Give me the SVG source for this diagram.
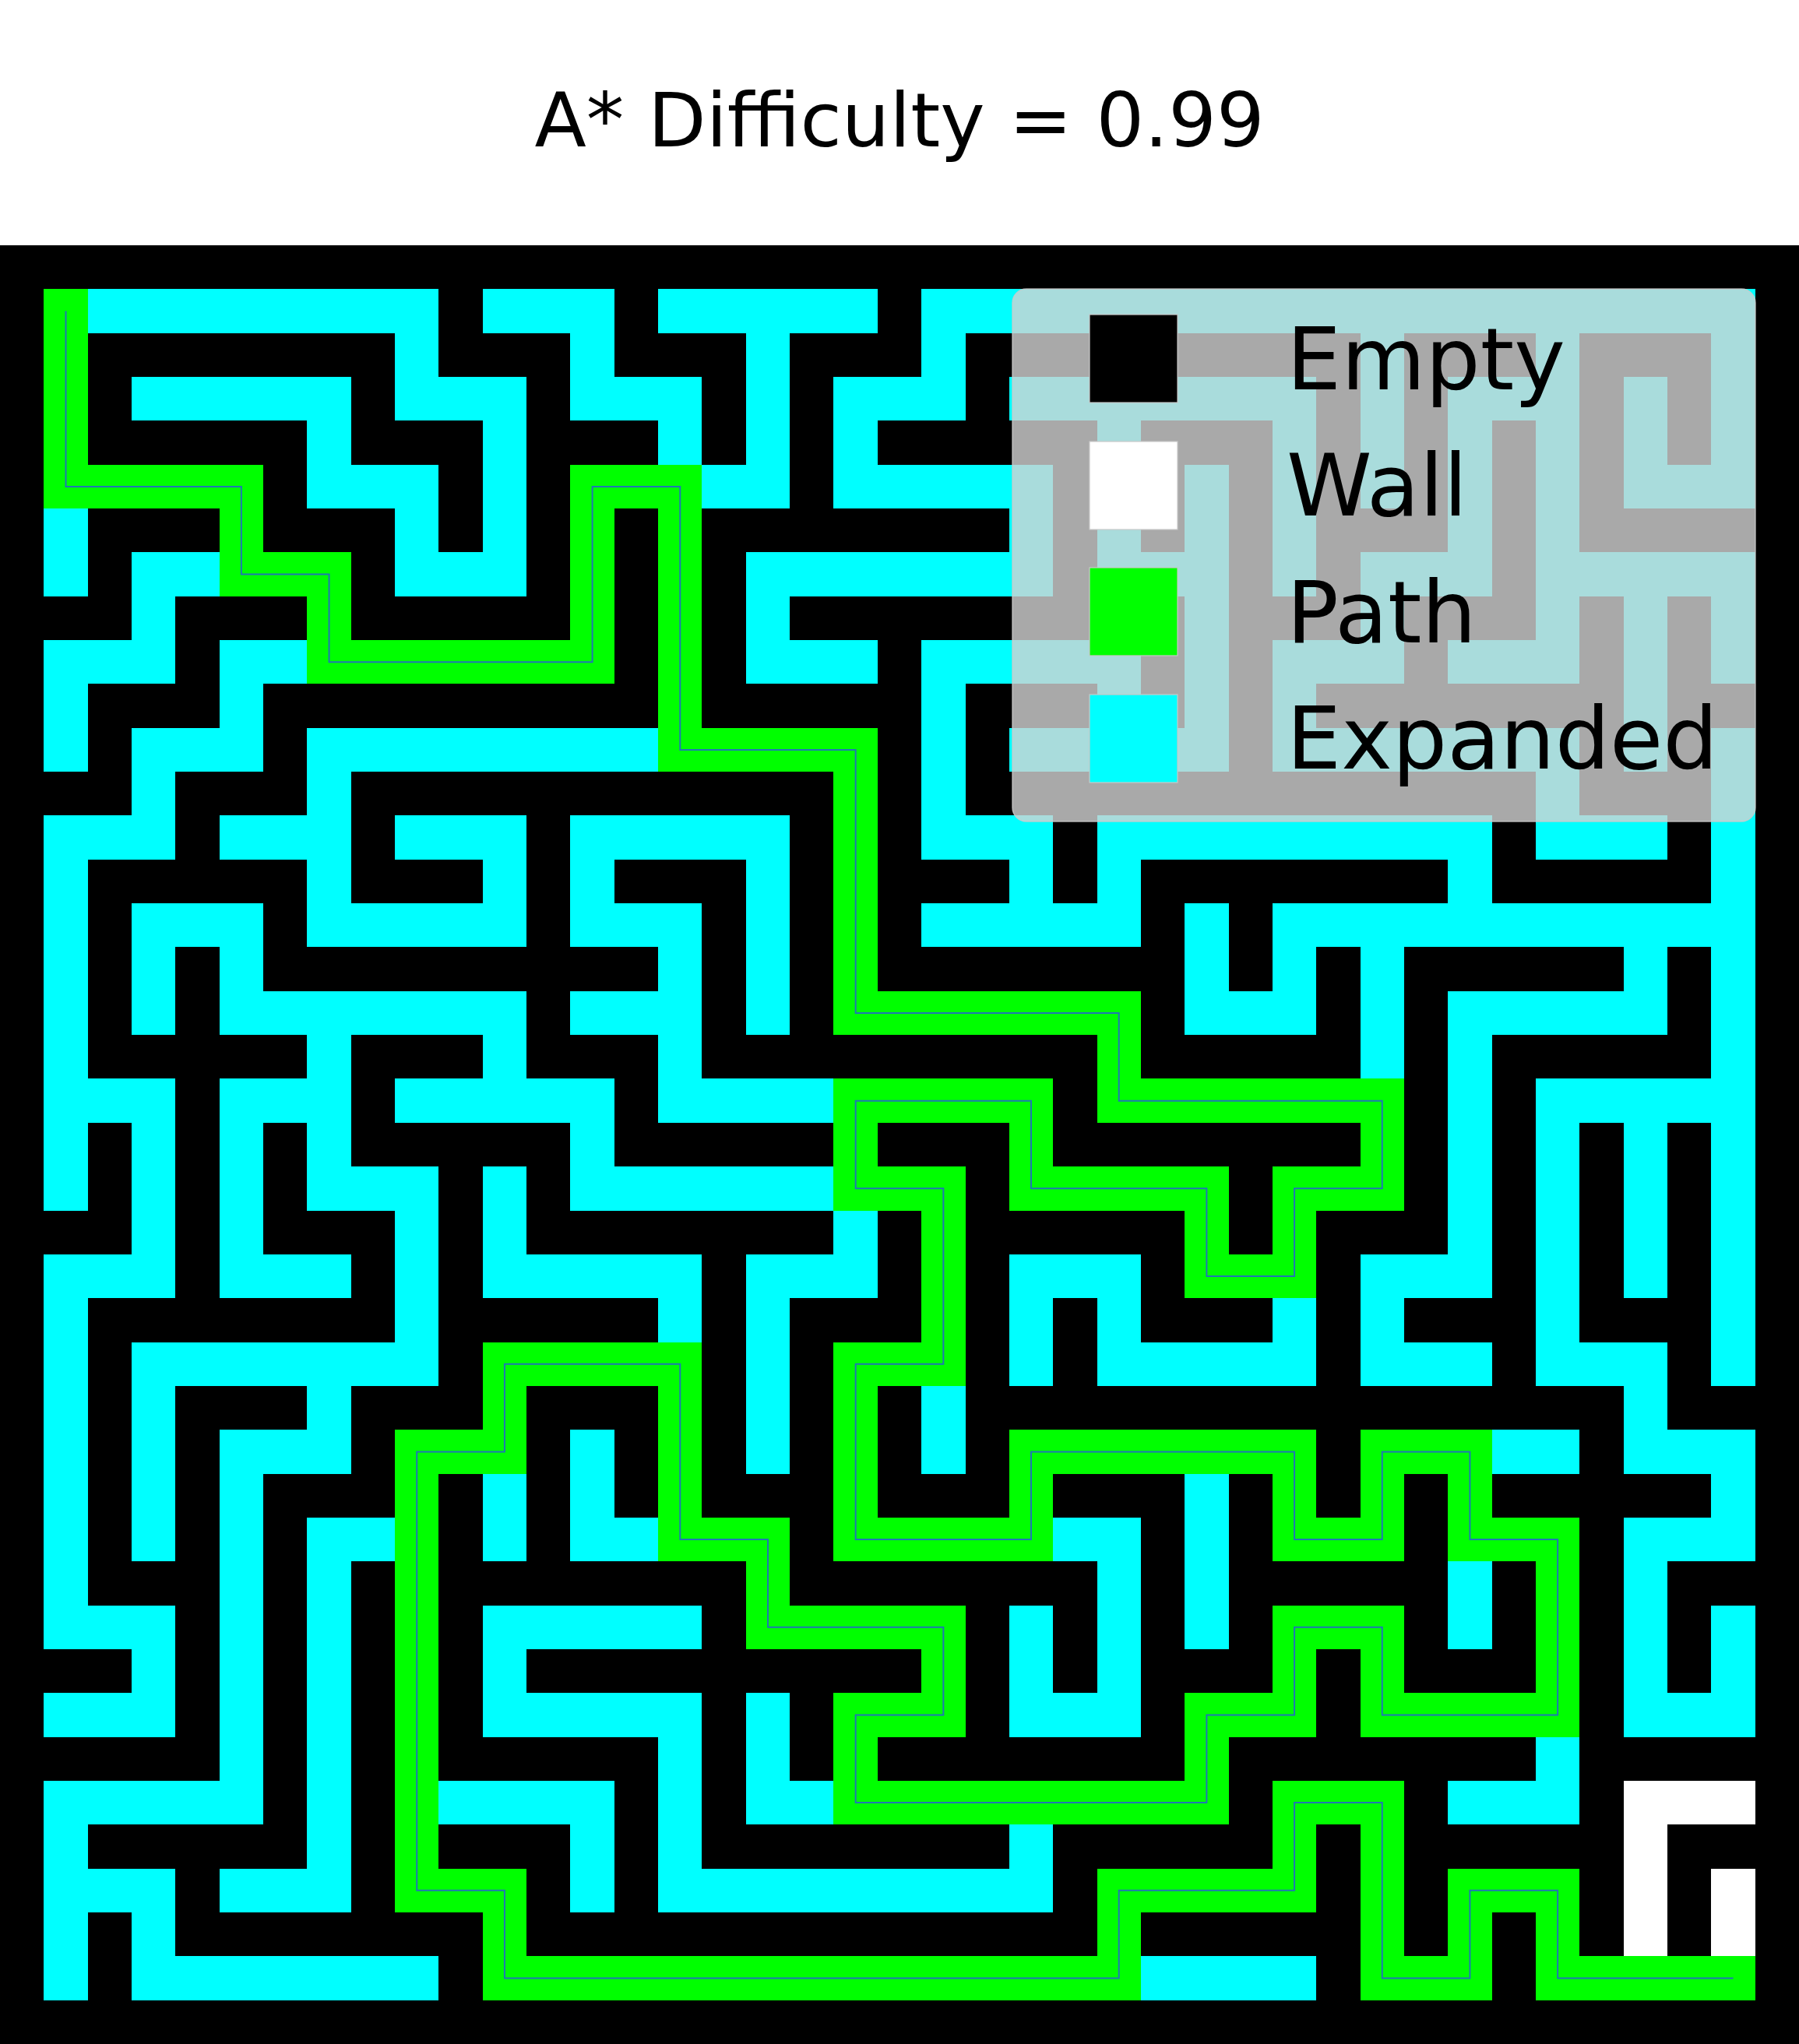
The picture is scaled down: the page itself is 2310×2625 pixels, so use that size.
<svg xmlns="http://www.w3.org/2000/svg" width="2310" height="2625" viewBox="0 0 2310 2625">
<style>
.c{fill:#00ffff}.g{fill:#00ff00}.w{fill:#ffffff}
.t{font-family:"DejaVu Sans","Liberation Sans",sans-serif;fill:#000}
.mk{stroke:#c8c8c8;stroke-width:1.2}
</style>
<rect x="0" y="0" width="2310" height="2625" fill="#ffffff"/>
<g id="title"><text class="t" x="1155" y="188" font-size="97" text-anchor="middle">A* Difficulty = 0.99</text></g>
<g id="maze">
<rect x="0" y="315" width="2310" height="2310" fill="#000000"/>
<g transform="translate(0 315) scale(56.3414634)" shape-rendering="crispEdges">
<g class="c">
<rect x="2" y="1" width="8" height="1"/><rect x="11" y="1" width="3" height="1"/><rect x="15" y="1" width="5" height="1"/><rect x="21" y="1" width="19" height="1"/>
<rect x="9" y="2" width="1" height="1"/><rect x="13" y="2" width="1" height="1"/><rect x="17" y="2" width="1" height="1"/><rect x="21" y="2" width="1" height="1"/><rect x="31" y="2" width="1" height="1"/><rect x="35" y="2" width="1" height="1"/><rect x="39" y="2" width="1" height="1"/>
<rect x="3" y="3" width="5" height="1"/><rect x="9" y="3" width="3" height="1"/><rect x="13" y="3" width="3" height="1"/><rect x="17" y="3" width="1" height="1"/><rect x="19" y="3" width="3" height="1"/><rect x="23" y="3" width="7" height="1"/><rect x="31" y="3" width="1" height="1"/><rect x="33" y="3" width="3" height="1"/><rect x="37" y="3" width="1" height="1"/><rect x="39" y="3" width="1" height="1"/>
<rect x="7" y="4" width="1" height="1"/><rect x="11" y="4" width="1" height="1"/><rect x="15" y="4" width="1" height="1"/><rect x="17" y="4" width="1" height="1"/><rect x="19" y="4" width="1" height="1"/><rect x="25" y="4" width="1" height="1"/><rect x="29" y="4" width="1" height="1"/><rect x="31" y="4" width="1" height="1"/><rect x="33" y="4" width="1" height="1"/><rect x="35" y="4" width="1" height="1"/><rect x="37" y="4" width="1" height="1"/><rect x="39" y="4" width="1" height="1"/>
<rect x="7" y="5" width="3" height="1"/><rect x="11" y="5" width="1" height="1"/><rect x="16" y="5" width="2" height="1"/><rect x="19" y="5" width="5" height="1"/><rect x="25" y="5" width="1" height="1"/><rect x="27" y="5" width="1" height="1"/><rect x="29" y="5" width="1" height="1"/><rect x="31" y="5" width="1" height="1"/><rect x="33" y="5" width="1" height="1"/><rect x="35" y="5" width="1" height="1"/><rect x="37" y="5" width="3" height="1"/>
<rect x="1" y="6" width="1" height="1"/><rect x="9" y="6" width="1" height="1"/><rect x="11" y="6" width="1" height="1"/><rect x="23" y="6" width="1" height="1"/><rect x="25" y="6" width="1" height="1"/><rect x="27" y="6" width="1" height="1"/><rect x="29" y="6" width="1" height="1"/><rect x="33" y="6" width="1" height="1"/><rect x="35" y="6" width="1" height="1"/>
<rect x="1" y="7" width="1" height="1"/><rect x="3" y="7" width="2" height="1"/><rect x="9" y="7" width="3" height="1"/><rect x="17" y="7" width="7" height="1"/><rect x="25" y="7" width="3" height="1"/><rect x="29" y="7" width="1" height="1"/><rect x="31" y="7" width="3" height="1"/><rect x="35" y="7" width="5" height="1"/>
<rect x="3" y="8" width="1" height="1"/><rect x="17" y="8" width="1" height="1"/><rect x="27" y="8" width="1" height="1"/><rect x="31" y="8" width="1" height="1"/><rect x="35" y="8" width="1" height="1"/><rect x="37" y="8" width="1" height="1"/><rect x="39" y="8" width="1" height="1"/>
<rect x="1" y="9" width="3" height="1"/><rect x="5" y="9" width="2" height="1"/><rect x="17" y="9" width="3" height="1"/><rect x="21" y="9" width="5" height="1"/><rect x="27" y="9" width="1" height="1"/><rect x="29" y="9" width="3" height="1"/><rect x="33" y="9" width="3" height="1"/><rect x="37" y="9" width="1" height="1"/><rect x="39" y="9" width="1" height="1"/>
<rect x="1" y="10" width="1" height="1"/><rect x="5" y="10" width="1" height="1"/><rect x="21" y="10" width="1" height="1"/><rect x="25" y="10" width="1" height="1"/><rect x="27" y="10" width="1" height="1"/><rect x="29" y="10" width="1" height="1"/><rect x="37" y="10" width="1" height="1"/>
<rect x="1" y="11" width="1" height="1"/><rect x="3" y="11" width="3" height="1"/><rect x="7" y="11" width="8" height="1"/><rect x="21" y="11" width="1" height="1"/><rect x="23" y="11" width="5" height="1"/><rect x="29" y="11" width="7" height="1"/><rect x="37" y="11" width="1" height="1"/><rect x="39" y="11" width="1" height="1"/>
<rect x="3" y="12" width="1" height="1"/><rect x="7" y="12" width="1" height="1"/><rect x="21" y="12" width="1" height="1"/><rect x="35" y="12" width="1" height="1"/><rect x="39" y="12" width="1" height="1"/>
<rect x="1" y="13" width="3" height="1"/><rect x="5" y="13" width="3" height="1"/><rect x="9" y="13" width="3" height="1"/><rect x="13" y="13" width="5" height="1"/><rect x="21" y="13" width="3" height="1"/><rect x="25" y="13" width="9" height="1"/><rect x="35" y="13" width="3" height="1"/><rect x="39" y="13" width="1" height="1"/>
<rect x="1" y="14" width="1" height="1"/><rect x="7" y="14" width="1" height="1"/><rect x="11" y="14" width="1" height="1"/><rect x="13" y="14" width="1" height="1"/><rect x="17" y="14" width="1" height="1"/><rect x="23" y="14" width="1" height="1"/><rect x="25" y="14" width="1" height="1"/><rect x="33" y="14" width="1" height="1"/><rect x="39" y="14" width="1" height="1"/>
<rect x="1" y="15" width="1" height="1"/><rect x="3" y="15" width="3" height="1"/><rect x="7" y="15" width="5" height="1"/><rect x="13" y="15" width="3" height="1"/><rect x="17" y="15" width="1" height="1"/><rect x="21" y="15" width="5" height="1"/><rect x="27" y="15" width="1" height="1"/><rect x="29" y="15" width="11" height="1"/>
<rect x="1" y="16" width="1" height="1"/><rect x="3" y="16" width="1" height="1"/><rect x="5" y="16" width="1" height="1"/><rect x="15" y="16" width="1" height="1"/><rect x="17" y="16" width="1" height="1"/><rect x="27" y="16" width="1" height="1"/><rect x="29" y="16" width="1" height="1"/><rect x="31" y="16" width="1" height="1"/><rect x="37" y="16" width="1" height="1"/><rect x="39" y="16" width="1" height="1"/>
<rect x="1" y="17" width="1" height="1"/><rect x="3" y="17" width="1" height="1"/><rect x="5" y="17" width="7" height="1"/><rect x="13" y="17" width="3" height="1"/><rect x="17" y="17" width="1" height="1"/><rect x="27" y="17" width="3" height="1"/><rect x="31" y="17" width="1" height="1"/><rect x="33" y="17" width="5" height="1"/><rect x="39" y="17" width="1" height="1"/>
<rect x="1" y="18" width="1" height="1"/><rect x="7" y="18" width="1" height="1"/><rect x="11" y="18" width="1" height="1"/><rect x="15" y="18" width="1" height="1"/><rect x="31" y="18" width="1" height="1"/><rect x="33" y="18" width="1" height="1"/><rect x="39" y="18" width="1" height="1"/>
<rect x="1" y="19" width="3" height="1"/><rect x="5" y="19" width="3" height="1"/><rect x="9" y="19" width="5" height="1"/><rect x="15" y="19" width="4" height="1"/><rect x="33" y="19" width="1" height="1"/><rect x="35" y="19" width="5" height="1"/>
<rect x="1" y="20" width="1" height="1"/><rect x="3" y="20" width="1" height="1"/><rect x="5" y="20" width="1" height="1"/><rect x="7" y="20" width="1" height="1"/><rect x="13" y="20" width="1" height="1"/><rect x="33" y="20" width="1" height="1"/><rect x="35" y="20" width="1" height="1"/><rect x="37" y="20" width="1" height="1"/><rect x="39" y="20" width="1" height="1"/>
<rect x="1" y="21" width="1" height="1"/><rect x="3" y="21" width="1" height="1"/><rect x="5" y="21" width="1" height="1"/><rect x="7" y="21" width="3" height="1"/><rect x="11" y="21" width="1" height="1"/><rect x="13" y="21" width="6" height="1"/><rect x="33" y="21" width="1" height="1"/><rect x="35" y="21" width="1" height="1"/><rect x="37" y="21" width="1" height="1"/><rect x="39" y="21" width="1" height="1"/>
<rect x="3" y="22" width="1" height="1"/><rect x="5" y="22" width="1" height="1"/><rect x="9" y="22" width="1" height="1"/><rect x="11" y="22" width="1" height="1"/><rect x="19" y="22" width="1" height="1"/><rect x="33" y="22" width="1" height="1"/><rect x="35" y="22" width="1" height="1"/><rect x="37" y="22" width="1" height="1"/><rect x="39" y="22" width="1" height="1"/>
<rect x="1" y="23" width="3" height="1"/><rect x="5" y="23" width="3" height="1"/><rect x="9" y="23" width="1" height="1"/><rect x="11" y="23" width="5" height="1"/><rect x="17" y="23" width="3" height="1"/><rect x="23" y="23" width="3" height="1"/><rect x="31" y="23" width="3" height="1"/><rect x="35" y="23" width="1" height="1"/><rect x="37" y="23" width="1" height="1"/><rect x="39" y="23" width="1" height="1"/>
<rect x="1" y="24" width="1" height="1"/><rect x="9" y="24" width="1" height="1"/><rect x="15" y="24" width="1" height="1"/><rect x="17" y="24" width="1" height="1"/><rect x="23" y="24" width="1" height="1"/><rect x="25" y="24" width="1" height="1"/><rect x="29" y="24" width="1" height="1"/><rect x="31" y="24" width="1" height="1"/><rect x="35" y="24" width="1" height="1"/><rect x="39" y="24" width="1" height="1"/>
<rect x="1" y="25" width="1" height="1"/><rect x="3" y="25" width="7" height="1"/><rect x="17" y="25" width="1" height="1"/><rect x="23" y="25" width="1" height="1"/><rect x="25" y="25" width="5" height="1"/><rect x="31" y="25" width="3" height="1"/><rect x="35" y="25" width="3" height="1"/><rect x="39" y="25" width="1" height="1"/>
<rect x="1" y="26" width="1" height="1"/><rect x="3" y="26" width="1" height="1"/><rect x="7" y="26" width="1" height="1"/><rect x="17" y="26" width="1" height="1"/><rect x="21" y="26" width="1" height="1"/><rect x="37" y="26" width="1" height="1"/>
<rect x="1" y="27" width="1" height="1"/><rect x="3" y="27" width="1" height="1"/><rect x="5" y="27" width="3" height="1"/><rect x="13" y="27" width="1" height="1"/><rect x="17" y="27" width="1" height="1"/><rect x="21" y="27" width="1" height="1"/><rect x="34" y="27" width="2" height="1"/><rect x="37" y="27" width="3" height="1"/>
<rect x="1" y="28" width="1" height="1"/><rect x="3" y="28" width="1" height="1"/><rect x="5" y="28" width="1" height="1"/><rect x="11" y="28" width="1" height="1"/><rect x="13" y="28" width="1" height="1"/><rect x="27" y="28" width="1" height="1"/><rect x="39" y="28" width="1" height="1"/>
<rect x="1" y="29" width="1" height="1"/><rect x="3" y="29" width="1" height="1"/><rect x="5" y="29" width="1" height="1"/><rect x="7" y="29" width="2" height="1"/><rect x="11" y="29" width="1" height="1"/><rect x="13" y="29" width="2" height="1"/><rect x="24" y="29" width="2" height="1"/><rect x="27" y="29" width="1" height="1"/><rect x="37" y="29" width="3" height="1"/>
<rect x="1" y="30" width="1" height="1"/><rect x="5" y="30" width="1" height="1"/><rect x="7" y="30" width="1" height="1"/><rect x="25" y="30" width="1" height="1"/><rect x="27" y="30" width="1" height="1"/><rect x="33" y="30" width="1" height="1"/><rect x="37" y="30" width="1" height="1"/>
<rect x="1" y="31" width="3" height="1"/><rect x="5" y="31" width="1" height="1"/><rect x="7" y="31" width="1" height="1"/><rect x="11" y="31" width="5" height="1"/><rect x="23" y="31" width="1" height="1"/><rect x="25" y="31" width="1" height="1"/><rect x="27" y="31" width="1" height="1"/><rect x="33" y="31" width="1" height="1"/><rect x="37" y="31" width="1" height="1"/><rect x="39" y="31" width="1" height="1"/>
<rect x="3" y="32" width="1" height="1"/><rect x="5" y="32" width="1" height="1"/><rect x="7" y="32" width="1" height="1"/><rect x="11" y="32" width="1" height="1"/><rect x="23" y="32" width="1" height="1"/><rect x="25" y="32" width="1" height="1"/><rect x="37" y="32" width="1" height="1"/><rect x="39" y="32" width="1" height="1"/>
<rect x="1" y="33" width="3" height="1"/><rect x="5" y="33" width="1" height="1"/><rect x="7" y="33" width="1" height="1"/><rect x="11" y="33" width="5" height="1"/><rect x="17" y="33" width="1" height="1"/><rect x="23" y="33" width="3" height="1"/><rect x="37" y="33" width="3" height="1"/>
<rect x="5" y="34" width="1" height="1"/><rect x="7" y="34" width="1" height="1"/><rect x="15" y="34" width="1" height="1"/><rect x="17" y="34" width="1" height="1"/><rect x="35" y="34" width="1" height="1"/>
<rect x="1" y="35" width="5" height="1"/><rect x="7" y="35" width="1" height="1"/><rect x="10" y="35" width="4" height="1"/><rect x="15" y="35" width="1" height="1"/><rect x="17" y="35" width="2" height="1"/><rect x="33" y="35" width="3" height="1"/>
<rect x="1" y="36" width="1" height="1"/><rect x="7" y="36" width="1" height="1"/><rect x="13" y="36" width="1" height="1"/><rect x="15" y="36" width="1" height="1"/><rect x="23" y="36" width="1" height="1"/>
<rect x="1" y="37" width="3" height="1"/><rect x="5" y="37" width="3" height="1"/><rect x="13" y="37" width="1" height="1"/><rect x="15" y="37" width="9" height="1"/>
<rect x="1" y="38" width="1" height="1"/><rect x="3" y="38" width="1" height="1"/>
<rect x="1" y="39" width="1" height="1"/><rect x="3" y="39" width="7" height="1"/><rect x="26" y="39" width="4" height="1"/>
</g>
<g class="g">
<rect x="1" y="1" width="1" height="4"/>
<rect x="1" y="5" width="5" height="1"/><rect x="13" y="5" width="3" height="1"/>
<rect x="5" y="6" width="1" height="1"/><rect x="13" y="6" width="1" height="1"/><rect x="15" y="6" width="1" height="1"/>
<rect x="5" y="7" width="3" height="1"/><rect x="13" y="7" width="1" height="1"/><rect x="15" y="7" width="1" height="1"/>
<rect x="7" y="8" width="1" height="1"/><rect x="13" y="8" width="1" height="1"/><rect x="15" y="8" width="1" height="1"/>
<rect x="7" y="9" width="7" height="1"/><rect x="15" y="9" width="1" height="1"/>
<rect x="15" y="10" width="1" height="1"/>
<rect x="15" y="11" width="5" height="1"/>
<rect x="19" y="12" width="1" height="5"/>
<rect x="19" y="17" width="7" height="1"/>
<rect x="25" y="18" width="1" height="1"/>
<rect x="19" y="19" width="5" height="1"/><rect x="25" y="19" width="7" height="1"/>
<rect x="19" y="20" width="1" height="1"/><rect x="23" y="20" width="1" height="1"/><rect x="31" y="20" width="1" height="1"/>
<rect x="19" y="21" width="3" height="1"/><rect x="23" y="21" width="5" height="1"/><rect x="29" y="21" width="3" height="1"/>
<rect x="21" y="22" width="1" height="1"/><rect x="27" y="22" width="1" height="1"/><rect x="29" y="22" width="1" height="1"/>
<rect x="21" y="23" width="1" height="1"/><rect x="27" y="23" width="3" height="1"/>
<rect x="21" y="24" width="1" height="1"/>
<rect x="11" y="25" width="5" height="1"/><rect x="19" y="25" width="3" height="1"/>
<rect x="11" y="26" width="1" height="1"/><rect x="15" y="26" width="1" height="1"/><rect x="19" y="26" width="1" height="1"/>
<rect x="9" y="27" width="3" height="1"/><rect x="15" y="27" width="1" height="1"/><rect x="19" y="27" width="1" height="1"/><rect x="23" y="27" width="7" height="1"/><rect x="31" y="27" width="3" height="1"/>
<rect x="9" y="28" width="1" height="1"/><rect x="15" y="28" width="1" height="1"/><rect x="19" y="28" width="1" height="1"/><rect x="23" y="28" width="1" height="1"/><rect x="29" y="28" width="1" height="1"/><rect x="31" y="28" width="1" height="1"/><rect x="33" y="28" width="1" height="1"/>
<rect x="9" y="29" width="1" height="1"/><rect x="15" y="29" width="3" height="1"/><rect x="19" y="29" width="5" height="1"/><rect x="29" y="29" width="3" height="1"/><rect x="33" y="29" width="3" height="1"/>
<rect x="9" y="30" width="1" height="1"/><rect x="17" y="30" width="1" height="1"/><rect x="35" y="30" width="1" height="1"/>
<rect x="9" y="31" width="1" height="1"/><rect x="17" y="31" width="5" height="1"/><rect x="29" y="31" width="3" height="1"/><rect x="35" y="31" width="1" height="1"/>
<rect x="9" y="32" width="1" height="1"/><rect x="21" y="32" width="1" height="1"/><rect x="29" y="32" width="1" height="1"/><rect x="31" y="32" width="1" height="1"/><rect x="35" y="32" width="1" height="1"/>
<rect x="9" y="33" width="1" height="1"/><rect x="19" y="33" width="3" height="1"/><rect x="27" y="33" width="3" height="1"/><rect x="31" y="33" width="5" height="1"/>
<rect x="9" y="34" width="1" height="1"/><rect x="19" y="34" width="1" height="1"/><rect x="27" y="34" width="1" height="1"/>
<rect x="9" y="35" width="1" height="1"/><rect x="19" y="35" width="9" height="1"/><rect x="29" y="35" width="3" height="1"/>
<rect x="9" y="36" width="1" height="1"/><rect x="29" y="36" width="1" height="1"/><rect x="31" y="36" width="1" height="1"/>
<rect x="9" y="37" width="3" height="1"/><rect x="25" y="37" width="5" height="1"/><rect x="31" y="37" width="1" height="1"/><rect x="33" y="37" width="3" height="1"/>
<rect x="11" y="38" width="1" height="1"/><rect x="25" y="38" width="1" height="1"/><rect x="31" y="38" width="1" height="1"/><rect x="33" y="38" width="1" height="1"/><rect x="35" y="38" width="1" height="1"/>
<rect x="11" y="39" width="15" height="1"/><rect x="31" y="39" width="3" height="1"/><rect x="35" y="39" width="5" height="1"/>
</g>
<g class="w">
<rect x="37" y="35" width="3" height="1"/><rect x="37" y="36" width="1" height="3"/><rect x="39" y="37" width="1" height="2"/>
</g>
</g>
</g>
<g id="solution-path">
<polyline transform="translate(0 315) scale(56.3414634) translate(0.5 0.5)" fill="none" stroke="#1f77b4" stroke-width="2" vector-effect="non-scaling-stroke" points="1,1 1,5 5,5 5,7 7,7 7,9 13,9 13,5 15,5 15,11 19,11 19,17 25,17 25,19 31,19 31,21 29,21 29,23 27,23 27,21 23,21 23,19 19,19 19,21 21,21 21,25 19,25 19,29 23,29 23,27 29,27 29,29 31,29 31,27 33,27 33,29 35,29 35,33 31,33 31,31 29,31 29,33 27,33 27,35 19,35 19,33 21,33 21,31 17,31 17,29 15,29 15,25 11,25 11,27 9,27 9,37 11,37 11,39 25,39 25,37 29,37 29,35 31,35 31,39 33,39 33,37 35,37 35,39 39,39"/>
</g>
<g id="legend">
<rect x="1300" y="371" width="954" height="684" rx="18" fill="#d3d3d3" fill-opacity="0.8" stroke="#cccccc" stroke-opacity="0.8" stroke-width="1.5"/>
<g id="legend-empty"><rect class="mk" x="1399" y="404" width="113" height="113" fill="#000000"/><text class="t" x="1652" y="500" font-size="111">Empty</text></g>
<g id="legend-wall"><rect class="mk" x="1399" y="567" width="113" height="113" fill="#ffffff"/><text class="t" x="1652" y="662" font-size="111">Wall</text></g>
<g id="legend-path"><rect class="mk" x="1399" y="729" width="113" height="113" fill="#00ff00"/><text class="t" x="1652" y="825" font-size="111">Path</text></g>
<g id="legend-expanded"><rect class="mk" x="1399" y="892" width="113" height="113" fill="#00ffff"/><text class="t" x="1652" y="987" font-size="111">Expanded</text></g>
</g>
</svg>
